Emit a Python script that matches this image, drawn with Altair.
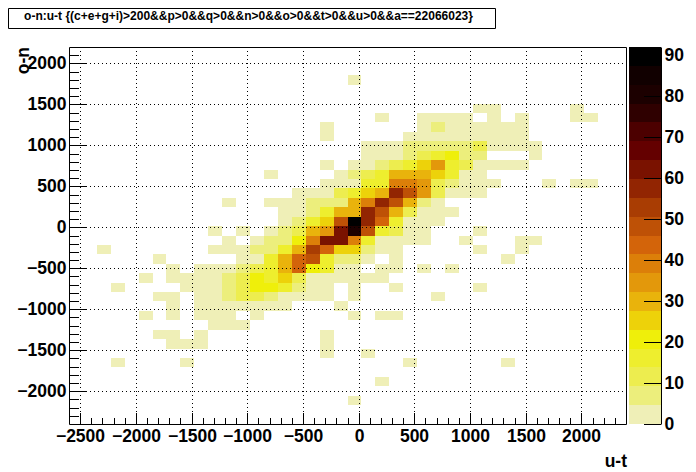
import altair as alt

# histogram binning
x_lo, x_hi, x_bins = -2600, 2400, 40
y_lo, y_hi, y_bins = -2400, 2200, 40

# (row from the top, first column, counts per bin; 0 = empty)
row_segments = [
    (3, 20, [2]),
    (6, 29, [2, 2, 0, 0, 0, 0, 0, 2]),
    (7, 22, [2, 0, 0, 2, 2, 2, 2, 0, 2, 0, 2, 0, 0, 0, 2, 2]),
    (8, 18, [2, 0, 0, 0, 0, 0, 0, 2, 7, 2, 2, 2, 2, 2, 2]),
    (9, 18, [2, 0, 0, 0, 0, 0, 2, 2, 2, 2, 2, 2, 2, 2, 2]),
    (10, 21, [2, 2, 2, 7, 7, 7, 7, 7, 12, 2, 2, 2, 2]),
    (11, 21, [2, 2, 2, 7, 12, 16, 21, 7, 7, 0, 0, 0, 2]),
    (12, 18, [2, 0, 2, 2, 7, 12, 16, 25, 35, 16, 12, 2, 2, 2, 2]),
    (13, 14, [2, 0, 0, 0, 0, 2, 7, 12, 16, 30, 30, 30, 25, 16, 2, 2]),
    (14, 18, [2, 2, 2, 16, 16, 39, 39, 35, 12, 7, 2, 2, 2, 0, 0, 0, 2, 0, 2, 2]),
    (15, 16, [2, 2, 2, 12, 16, 25, 30, 58, 49, 35, 12, 2, 2, 2]),
    (16, 11, [2, 0, 0, 2, 2, 2, 7, 7, 7, 30, 39, 58, 49, 30, 7, 2]),
    (17, 15, [2, 2, 7, 16, 30, 30, 58, 49, 30, 12, 2, 2, 2]),
    (18, 15, [2, 7, 16, 25, 49, 90, 58, 44, 16, 2, 2, 2]),
    (19, 10, [2, 0, 2, 0, 2, 7, 12, 30, 35, 62, 81, 49, 16, 12, 2, 2, 0, 0, 0, 2]),
    (20, 11, [2, 0, 2, 7, 7, 21, 39, 62, 62, 39, 16, 2, 2, 2, 2, 0, 0, 2, 0, 0, 0, 2, 2]),
    (21, 2, [2]),
    (21, 10, [2, 2, 2, 7, 7, 16, 30, 53, 44, 25, 25, 7, 2, 2, 0, 0, 0, 0, 0, 2, 0, 0, 2]),
    (22, 6, [2]),
    (22, 12, [2, 2, 16, 30, 44, 49, 16, 7, 7, 2, 0, 2, 0, 0, 0, 0, 0, 0, 0, 2]),
    (23, 7, [2, 0, 2, 2, 2, 7, 12, 16, 30, 44, 21, 16, 2, 2, 0, 2, 2, 0, 2, 0, 2]),
    (24, 5, [2, 0, 2, 2, 2, 2, 7, 12, 21, 16, 25, 12, 2, 2, 2, 2, 2, 2]),
    (25, 3, [2]),
    (25, 8, [2, 2, 2, 7, 12, 21, 21, 16, 7, 2, 2, 0, 2, 0, 0, 2, 0, 0, 0, 0, 0, 2]),
    (26, 6, [2, 2, 0, 2, 2, 7, 12, 12, 7, 2, 2, 2, 2, 0, 2, 0, 0, 0, 0, 0, 2]),
    (27, 7, [2, 0, 2, 2, 2, 2, 2, 2, 2, 0, 0, 0, 2]),
    (28, 5, [2, 0, 2, 0, 2, 2, 2, 0, 2]),
    (28, 20, [2, 0, 2, 2]),
    (29, 10, [2, 2, 2]),
    (30, 6, [2, 2, 0, 2]),
    (30, 18, [2]),
    (31, 7, [2, 2, 2]),
    (31, 18, [2]),
    (32, 18, [2, 0, 0, 2]),
    (33, 3, [2]),
    (33, 8, [2]),
    (33, 24, [2]),
    (33, 31, [2]),
    (35, 22, [2]),
    (37, 20, [2]),
]

band_edges = [0, 4.6, 9.2, 13.8, 18.4, 23, 27.6, 32.2, 36.8, 41.4, 46, 50.6, 55.2,
              59.8, 64.4, 69, 73.6, 78.2, 82.8, 87.4, 92]
band_colors = ["#EFEFB7", "#ECEE7C", "#EDED4F", "#EEEE2E", "#EFEF0A", "#EDD20A", "#E9B30C",
               "#E3980B", "#DC7F09", "#D3640A", "#BE5106", "#A93D03", "#922502", "#7A1200",
               "#640000", "#4C0000", "#2F0000", "#1C0000", "#110000", "#000000"]

x_major = [-2500, -2000, -1500, -1000, -500, 0, 500, 1000, 1500, 2000]
y_major = [-2000, -1500, -1000, -500, 0, 500, 1000, 1500, 2000]
x_minor = [v for v in range(-2500, 2400, 100) if v % 500]
y_minor = [v for v in range(-2300, 2200, 100) if v % 500]
z_ticks = [0, 10, 20, 30, 40, 50, 60, 70, 80, 90]

title_text = "o-n:u-t {(c+e+g+i)>200&&p>0&&q>0&&n>0&&o>0&&t>0&&u>0&&a==22066023}"

W, H = 557, 377
FONT = "Liberation Sans"
LABEL = 17.5

dx = (x_hi - x_lo) / x_bins
dy = (y_hi - y_lo) / y_bins
cells = []
for r, c0, vals_ in row_segments:
    for i, v in enumerate(vals_):
        if v:
            c = c0 + i
            cells.append({"x0": x_lo + c * dx, "x1": x_lo + (c + 1) * dx,
                          "y1": y_hi - r * dy, "y0": y_hi - (r + 1) * dy, "n": v})
bands = [{"lo": a, "hi": b, "n": (a + b) / 2} for a, b in zip(band_edges[:-1], band_edges[1:])]

xs = alt.Scale(domain=[x_lo, x_hi], range=[-1, W - 1], nice=False, zero=False, round=True)
ys = alt.Scale(domain=[y_lo, y_hi], range=[H, 0], nice=False, zero=False, round=True)
zs = alt.Scale(domain=[0, band_edges[-1]], range=[H, 0], nice=False, zero=False, round=True)
color = alt.Color("n:Q", legend=None,
                  scale=alt.Scale(type="threshold", domain=band_edges[1:-1], range=band_colors))

heat = alt.Chart(alt.Data(values=cells)).mark_rect(strokeWidth=0).encode(
    x=alt.X("x0:Q", scale=xs, title=None,
            axis=alt.Axis(values=x_major, format="d", ticks=False, domain=False, grid=False, labelFont=FONT,
                          labelFontWeight="bold", labelFontSize=LABEL, labelColor="black",
                          labelPadding=3, labelFlush=False, labelOverlap=False, title=None)),
    x2="x1:Q",
    y=alt.Y("y0:Q", scale=ys, title=None,
            axis=alt.Axis(values=y_major, format="d", ticks=False, domain=False, grid=False, labelFont=FONT,
                          labelFontWeight="bold", labelFontSize=LABEL, labelColor="black",
                          labelPadding=4, labelFlush=False, labelOverlap=False, title=None)),
    y2="y1:Q",
    color=color,
)


def vals(seq):
    return alt.Data(values=[{"v": v} for v in seq])


DOT = [1, 3]
rule_x = dict(color="black", strokeWidth=1, xOffset=0.5)
rule_y = dict(color="black", strokeWidth=1, yOffset=0.5)
grid_v = alt.Chart(vals(x_major)).mark_rule(strokeDash=DOT, **rule_x).encode(
    x=alt.X("v:Q", scale=xs, axis=None), y=alt.value(0), y2=alt.value(H))
grid_h = alt.Chart(vals(y_major)).mark_rule(strokeDash=DOT, **rule_y).encode(
    y=alt.Y("v:Q", scale=ys, axis=None), x=alt.value(0), x2=alt.value(W))
tick_x_maj = alt.Chart(vals(x_major)).mark_rule(**rule_x).encode(
    x=alt.X("v:Q", scale=xs, axis=None), y=alt.value(H), y2=alt.value(H - 11))
tick_x_min = alt.Chart(vals(x_minor)).mark_rule(**rule_x).encode(
    x=alt.X("v:Q", scale=xs, axis=None), y=alt.value(H), y2=alt.value(H - 6))
tick_y_maj = alt.Chart(vals(y_major)).mark_rule(**rule_y).encode(
    y=alt.Y("v:Q", scale=ys, axis=None), x=alt.value(0), x2=alt.value(17))
tick_y_min = alt.Chart(vals(y_minor)).mark_rule(**rule_y).encode(
    y=alt.Y("v:Q", scale=ys, axis=None), x=alt.value(0), x2=alt.value(9))

blank = alt.Data(values=[{"a": 1}])
frame = alt.Chart(blank).mark_rect(fillOpacity=0, stroke="black", strokeWidth=1).encode(
    x=alt.value(-0.5), x2=alt.value(W - 0.5), y=alt.value(0.5), y2=alt.value(H + 0.5))
title_box = alt.Chart(blank).mark_rect(fill="white", stroke="black", strokeWidth=1).encode(
    x=alt.value(-61.5), x2=alt.value(425.5), y=alt.value(-38.5), y2=alt.value(-18.5))
title_mark = alt.Chart(blank).mark_text(text=title_text, font=FONT, fontSize=12, fontWeight="bold",
                                        align="center", baseline="middle", color="black").encode(
    x=alt.value(178.5), y=alt.value(-31.5))
x_title = alt.Chart(blank).mark_text(text="u-t", font=FONT, fontSize=LABEL, fontWeight="bold",
                                     align="right", baseline="middle", color="black").encode(
    x=alt.value(W), y=alt.value(415))
y_title = alt.Chart(blank).mark_text(text="o-n", font=FONT, fontSize=LABEL, fontWeight="bold",
                                     align="right", baseline="middle", angle=270, color="black").encode(
    x=alt.value(-46), y=alt.value(0))

colorbar = alt.Chart(alt.Data(values=bands)).mark_rect(strokeWidth=0).encode(
    x=alt.value(559), x2=alt.value(591),
    y=alt.Y("lo:Q", scale=zs, title=None,
            axis=alt.Axis(orient="right", offset=34, values=z_ticks, ticks=False, domain=True,
                          domainColor="black", domainWidth=1, grid=False, labelFont=FONT,
                          labelFontWeight="bold", labelFontSize=LABEL, labelColor="black",
                          labelPadding=3, labelFlush=False, labelOverlap=False, title=None)),
    y2="hi:Q",
    color=color,
)
bar_ticks = alt.Chart(vals(z_ticks)).mark_rule(**rule_y).encode(
    y=alt.Y("v:Q", scale=zs, axis=None), x=alt.value(574), x2=alt.value(591))

chart = alt.layer(
    heat, grid_v, grid_h, tick_x_min, tick_x_maj, tick_y_min, tick_y_maj, frame,
    colorbar, bar_ticks, title_box, title_mark, x_title, y_title,
).resolve_scale(x="independent", y="independent", color="shared").properties(
    width=W, height=H, padding=0
).configure_view(stroke=None)

chart.save("out.html", embed_options={"renderer": "svg", "actions": False})
